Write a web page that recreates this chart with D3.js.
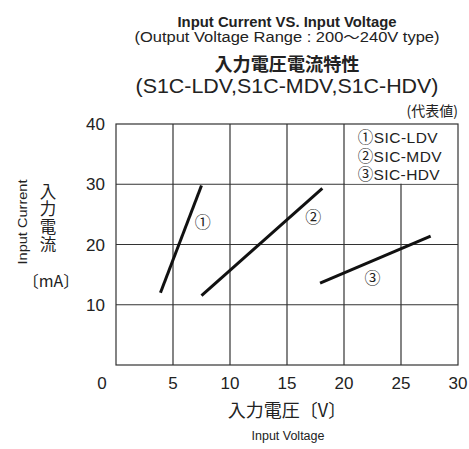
<!DOCTYPE html>
<html>
<head>
<meta charset="utf-8">
<script src="https://cdn.jsdelivr.net/npm/d3@7"></script>
<style>
  body { margin: 0; background: #fff; }
  text { font-family: "Liberation Sans", Arial, "Noto Sans CJK JP", sans-serif; fill: #222; }
  .jp { font-family: "Noto Sans CJK JP", sans-serif; }
</style>
</head>
<body>
<div class="chart"></div>
<script>
// data: [voltage V, current mA]
const ldv = [[3.9, 12.0], [7.5, 29.8]]
const mdv = [[7.5, 11.5], [18.1, 29.3]]
const hdv = [[17.9, 13.6], [27.6, 21.4]]
const series = [
  { name: '①', data: ldv, label: [7.6, 23.7] },
  { name: '②', data: mdv, label: [17.3, 24.5] },
  { name: '③', data: hdv, label: [22.5, 14.5] }
]
const legendItems = ['①SIC-LDV', '②SIC-MDV', '③SIC-HDV']
const xTicks = [5, 10, 15, 20, 25, 30]
const yTicks = [10, 20, 30, 40]

const W = 469, H = 449
const margin = {top: 124, right: 11, bottom: 84, left: 116},
  width = W - margin.left - margin.right,
  height = H - margin.top - margin.bottom

const root = d3.select('.chart').append('svg')
  .attr('width', W)
  .attr('height', H)

const svg = root.append('g')
  .attr('transform', 'translate(' + margin.left + ',' + margin.top + ')')

const x = d3.scaleLinear().domain([0, 30]).range([0, width])
const y = d3.scaleLinear().domain([0, 40]).range([height, 0])

// grid
svg.append('g')
  .selectAll('line.v')
  .data(xTicks.slice(0, -1))
  .enter().append('line')
  .attr('x1', d => x(d)).attr('x2', d => x(d))
  .attr('y1', 0).attr('y2', height)
  .attr('stroke', '#333').attr('stroke-width', 1.2)

svg.append('g')
  .selectAll('line.h')
  .data(yTicks.slice(0, -1))
  .enter().append('line')
  .attr('x1', 0).attr('x2', width)
  .attr('y1', d => y(d)).attr('y2', d => y(d))
  .attr('stroke', '#333').attr('stroke-width', 1.2)

// legend box covers grid in the top right
svg.append('rect')
  .attr('x', x(20) + 1).attr('y', 0)
  .attr('width', x(30) - x(20) - 1).attr('height', y(30) - 0.6)
  .attr('fill', '#fff')

svg.append('rect')
  .attr('width', width).attr('height', height)
  .attr('fill', 'none').attr('stroke', '#333').attr('stroke-width', 1.2)

// axis labels
svg.append('g')
  .selectAll('text')
  .data([0].concat(xTicks))
  .enter().append('text')
  .attr('x', d => x(d) - (d === 0 ? 14 : 0))
  .attr('y', height + 24)
  .attr('text-anchor', 'middle')
  .attr('font-size', 17)
  .text(d => d)

svg.append('g')
  .selectAll('text')
  .data(yTicks)
  .enter().append('text')
  .attr('x', -11)
  .attr('y', d => y(d) + 6)
  .attr('text-anchor', 'end')
  .attr('font-size', 17)
  .text(d => d)

// lines
const line = d3.line().x(d => x(d[0])).y(d => y(d[1]))
svg.append('g')
  .selectAll('path')
  .data(series)
  .enter().append('path')
  .attr('d', d => line(d.data))
  .attr('fill', 'none')
  .attr('stroke', '#111')
  .attr('stroke-width', 3)

svg.append('g')
  .selectAll('text')
  .data(series)
  .enter().append('text')
  .attr('class', 'jp')
  .attr('x', d => x(d.label[0]))
  .attr('y', d => y(d.label[1]) + 6)
  .attr('text-anchor', 'middle')
  .attr('font-size', 16)
  .text(d => d.name)

svg.append('g')
  .selectAll('text')
  .data(legendItems)
  .enter().append('text')
  .attr('x', x(21.2))
  .attr('y', (d, i) => 19 + i * 18.5)
  .attr('font-size', 15.5)
  .attr('textLength', (d, i) => [80, 84, 82][i])
  .text(d => d)

// titles
const cx = 287
const titles = [
  { t: 'Input Current VS. Input Voltage', y: 27, size: 14, w: 'bold', len: 219, cls: '' },
  { t: '(Output Voltage Range : 200～240V type)', y: 42, size: 14, w: 'normal', len: 305, cls: '' },
  { t: '入力電圧電流特性', y: 71, size: 18, w: 'bold', len: 145, cls: 'jp' },
  { t: '(S1C-LDV,S1C-MDV,S1C-HDV)', y: 93, size: 21, w: 'normal', len: 303, cls: '' }
]
root.append('g')
  .selectAll('text')
  .data(titles)
  .enter().append('text')
  .attr('class', d => d.cls)
  .attr('x', cx).attr('y', d => d.y)
  .attr('text-anchor', 'middle')
  .attr('font-size', d => d.size)
  .attr('font-weight', d => d.w)
  .attr('textLength', d => d.len)
  .attr('lengthAdjust', 'spacingAndGlyphs')
  .text(d => d.t)

root.append('text')
  .attr('class', 'jp')
  .attr('x', 458).attr('y', 116)
  .attr('text-anchor', 'end')
  .attr('font-size', 14)
  .text('(代表値)')

// y axis title
root.append('text')
  .attr('transform', 'translate(27,222) rotate(-90)')
  .attr('text-anchor', 'middle')
  .attr('font-size', 12.5)
  .attr('textLength', 85)
  .attr('lengthAdjust', 'spacingAndGlyphs')
  .text('Input Current')

root.append('text')
  .attr('class', 'jp')
  .attr('x', 48).attr('y', 183)
  .attr('font-size', 16.5)
  .style('writing-mode', 'vertical-rl')
  .style('letter-spacing', '1.2px')
  .text('入力電流')

root.append('text')
  .attr('class', 'jp')
  .attr('x', 51).attr('y', 287)
  .attr('text-anchor', 'middle')
  .attr('font-size', 16)
  .text('〔mA〕')

// x axis title
root.append('text')
  .attr('class', 'jp')
  .attr('x', 287).attr('y', 417)
  .attr('text-anchor', 'middle')
  .attr('font-size', 18)
  .text('入力電圧〔V〕')

root.append('text')
  .attr('x', 288).attr('y', 440)
  .attr('text-anchor', 'middle')
  .attr('font-size', 12.5)
  .text('Input Voltage')
</script>
</body>
</html>
